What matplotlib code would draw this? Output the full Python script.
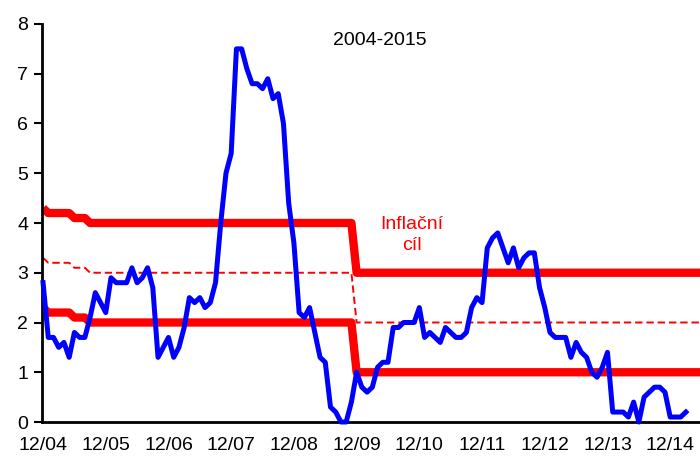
import matplotlib
matplotlib.use("Agg")
import matplotlib.pyplot as plt

# =========================================================
# DATA
# =========================================================

# monthly y/y inflation, 12/2004 ... 3/2015
inflation = [
    2.8,
    1.7, 1.7, 1.5, 1.6, 1.3, 1.8, 1.7, 1.7, 2.1, 2.6, 2.4, 2.2,
    2.9, 2.8, 2.8, 2.8, 3.1, 2.8, 2.9, 3.1, 2.7, 1.3, 1.5, 1.7,
    1.3, 1.5, 1.9, 2.5, 2.4, 2.5, 2.3, 2.4, 2.8, 4.0, 5.0, 5.4,
    7.5, 7.5, 7.1, 6.8, 6.8, 6.7, 6.9, 6.5, 6.6, 6.0, 4.4, 3.6,
    2.2, 2.1, 2.3, 1.8, 1.3, 1.2, 0.3, 0.2, 0.0, 0.0, 0.4, 1.0,
    0.7, 0.6, 0.7, 1.1, 1.2, 1.2, 1.9, 1.9, 2.0, 2.0, 2.0, 2.3,
    1.7, 1.8, 1.7, 1.6, 1.9, 1.8, 1.7, 1.7, 1.8, 2.3, 2.5, 2.4,
    3.5, 3.7, 3.8, 3.5, 3.2, 3.5, 3.1, 3.3, 3.4, 3.4, 2.7, 2.3,
    1.8, 1.7, 1.7, 1.7, 1.3, 1.6, 1.4, 1.3, 1.0, 0.9, 1.1, 1.4,
    0.2, 0.2, 0.2, 0.1, 0.4, 0.0, 0.5, 0.6, 0.7, 0.7, 0.6, 0.1,
    0.1, 0.1, 0.2,
]

# inflation target corridor (breakpoints, months since 12/2004)
target_months = [0, 1, 5, 6, 8, 9, 59, 60, 126]
target_upper = [4.3, 4.2, 4.2, 4.1, 4.1, 4.0, 4.0, 3.0, 3.0]
target_mid = [3.3, 3.2, 3.2, 3.1, 3.1, 3.0, 3.0, 2.0, 2.0]
target_lower = [2.3, 2.2, 2.2, 2.1, 2.1, 2.0, 2.0, 1.0, 1.0]

tick_labels = ["12/04", "12/05", "12/06", "12/07", "12/08", "12/09",
               "12/10", "12/11", "12/12", "12/13", "12/14"]

# =========================================================
# PLOT
# =========================================================

plt.rcParams["font.family"] = ["Liberation Sans", "DejaVu Sans"]

RED = "#ff0000"
BLUE = "#0000ff"

fig = plt.figure(figsize=(7, 4.58), dpi=100)
ax = fig.add_axes([0.06, 0.0786, 0.94, 0.869])

months = list(range(len(inflation)))

ax.plot(target_months, target_upper, color=RED, lw=6,
        solid_capstyle="butt", solid_joinstyle="round", zorder=2)
ax.plot(target_months, target_lower, color=RED, lw=6,
        solid_capstyle="butt", solid_joinstyle="round", zorder=2)
ax.plot(target_months, target_mid, color=RED, lw=1.4,
        linestyle=(0, (3.8, 2.0)), zorder=2)

ax.plot(months, inflation, color=BLUE, lw=3.6,
        solid_joinstyle="round", zorder=3, clip_on=False)

ax.text(70.5, 3.76, "Inflační\ncíl", color=RED, fontsize=14,
        ha="center", va="center", multialignment="center",
        linespacing=1.3)
ax.text(64.5, 7.66, "2004-2015", color="black", fontsize=14,
        ha="center", va="center")

ax.set_xlim(-0.2, 125.7)
ax.set_ylim(0, 8)

ax.set_xticks(range(0, 121, 12))
ax.set_xticklabels(tick_labels)
ax.set_yticks(range(0, 9))

ax.tick_params(axis="x", length=0, pad=11, labelsize=14)
ax.tick_params(axis="y", length=6, width=1.5, direction="out",
               pad=4, labelsize=14)

for side in ["top", "right"]:
    ax.spines[side].set_visible(False)
ax.spines["left"].set_linewidth(2)
ax.spines["bottom"].set_linewidth(2)

fig.savefig("out.png", dpi=100)
